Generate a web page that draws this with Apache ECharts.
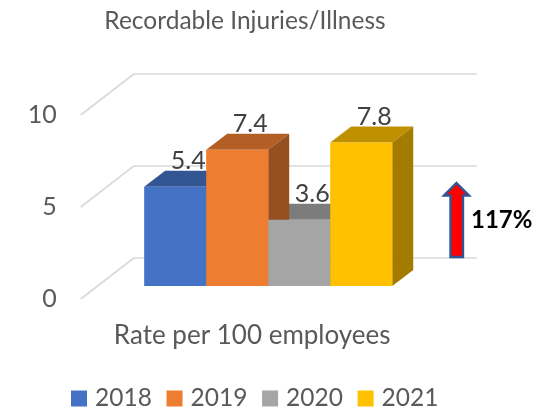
<!DOCTYPE html>
<html>
<head>
<meta charset="utf-8">
<style>
	html, body { margin: 0; padding: 0; background: #ffffff; }
	#chart { width: 546px; height: 408px; }
</style>
<script src="https://cdn.jsdelivr.net/npm/echarts@6/dist/echarts.min.js"></script>
</head>
<body>
<div id="chart"></div>
<script>
//Chart data
const categories = ["Rate per 100 employees"];
const years = ["2018", "2019", "2020", "2021"];
const values = [5.4, 7.4, 3.6, 7.8];
const y_ticks = [0, 5, 10];

//Face colours for each year
const front_colours = ["#4472C4", "#ED7D31", "#A5A5A5", "#FFC000"];
const top_colours = ["#335593", "#B25E25", "#7C7C7C", "#BF9000"];
const side_colours = ["#294677", "#964F1E", "#636363", "#A37B00"];

//Pseudo 3D projection, in px
const wall_depth = [53, -41];
const bar_depth = [21, -16];
const bar_origin = [16, -13];
const bar_width_ratio = 0.1808;

const font_family = "Lato, 'Open Sans', sans-serif";
const text_colour = "#595959";

function renderWall (params, api) {
	let tick = api.value(1);
	let left = api.coord([0, tick]);
	let band = api.size([1, 0])[0];
	let x0 = left[0] - band/2;
	let y0 = left[1];
	let line_style = { stroke: "#D9D9D9", lineWidth: 1.6, fill: null };

	//Return statement
	return {
		type: "polyline",
		silent: true,
		z2: 0,
		shape: {
			points: [
				[x0, y0],
				[x0 + wall_depth[0], y0 + wall_depth[1]],
				[x0 + band + wall_depth[0], y0 + wall_depth[1]]
			]
		},
		style: line_style
	};
}

function renderBar (arg0_index, params, api) {
	let index = arg0_index;
	let value = api.value(1);
	let top = api.coord([0, value]);
	let base = api.coord([0, 0]);
	let band = api.size([1, 0])[0];
	let width = band*bar_width_ratio;
	let x0 = base[0] + bar_origin[0] + (index - years.length/2)*width;
	let x1 = x0 + width;
	let y0 = base[1] + bar_origin[1];
	let y1 = top[1] + bar_origin[1];
	let dx = bar_depth[0];
	let dy = bar_depth[1];

	//Return statement
	return {
		type: "group",
		children: [
			{
				type: "polygon",
				z2: 1,
				shape: { points: [[x0, y1], [x0 + dx, y1 + dy], [x1 + dx, y1 + dy], [x1, y1]] },
				style: { fill: top_colours[index] }
			},
			{
				type: "polygon",
				z2: 2,
				shape: { points: [[x1, y1], [x1 + dx, y1 + dy], [x1 + dx, y0 + dy], [x1, y0]] },
				style: { fill: side_colours[index] }
			},
			{
				type: "rect",
				z2: 3,
				shape: { x: x0, y: y1, width: width, height: y0 - y1 },
				style: { fill: front_colours[index] }
			},
			{
				type: "text",
				z2: 4,
				style: {
					x: (x0 + x1)/2 + 13,
					y: y1 - 26,
					text: value.toFixed(1),
					fill: "#404040",
					font: `25px ${font_family}`,
					align: "center",
					verticalAlign: "middle"
				}
			}
		]
	};
}

let series = [{
	type: "custom",
	name: "wall",
	silent: true,
	data: y_ticks.map((local_tick) => [0, local_tick]),
	renderItem: renderWall
}];
for (let i = 0; i < years.length; i++)
	series.push({
		type: "custom",
		name: years[i],
		itemStyle: { color: front_colours[i] },
		data: [[0, values[i]]],
		renderItem: (params, api) => renderBar(i, params, api)
	});

let chart = echarts.init(document.getElementById("chart"), null, { renderer: "canvas" });
chart.setOption({
	animation: false,
	backgroundColor: "#ffffff",
	title: {
		text: "Recordable Injuries/Illness",
		left: 240,
		top: 4,
		textAlign: "center",
		textStyle: { color: text_colour, fontFamily: font_family, fontSize: 24.5, fontWeight: "normal" }
	},
	grid: { left: 80.7, top: 115, width: 343, height: 184 },
	xAxis: {
		type: "category",
		data: categories,
		axisLine: { show: false },
		axisTick: { show: false },
		axisLabel: { color: text_colour, fontFamily: font_family, fontSize: 26, margin: 24 }
	},
	yAxis: {
		type: "value",
		min: 0,
		max: 10,
		interval: 5,
		axisLine: { show: false },
		axisTick: { show: false },
		splitLine: { show: false },
		axisLabel: { color: text_colour, fontFamily: font_family, fontSize: 25, margin: 24 }
	},
	legend: {
		data: years,
		left: 66,
		top: 381,
		icon: "rect",
		itemWidth: 16,
		itemHeight: 16,
		itemGap: 14.7,
		textStyle: { color: text_colour, fontFamily: font_family, fontSize: 24.5, padding: [0, 0, 0, 3] }
	},
	graphic: [
		{
			type: "polygon",
			z: 10,
			shape: {
				points: [[456.5, 183], [469, 195.5], [463, 195.5], [463, 257], [450.5, 257], [450.5, 195.5], [444, 195.5]]
			},
			style: { fill: "#FF0000", stroke: "#2F5597", lineWidth: 2.4 }
		},
		{
			type: "text",
			z: 10,
			style: {
				x: 471,
				y: 220,
				text: "117%",
				fill: "#000000",
				font: `bold 24px ${font_family}`,
				align: "left",
				verticalAlign: "middle"
			}
		}
	],
	series: series
});
</script>
</body>
</html>
